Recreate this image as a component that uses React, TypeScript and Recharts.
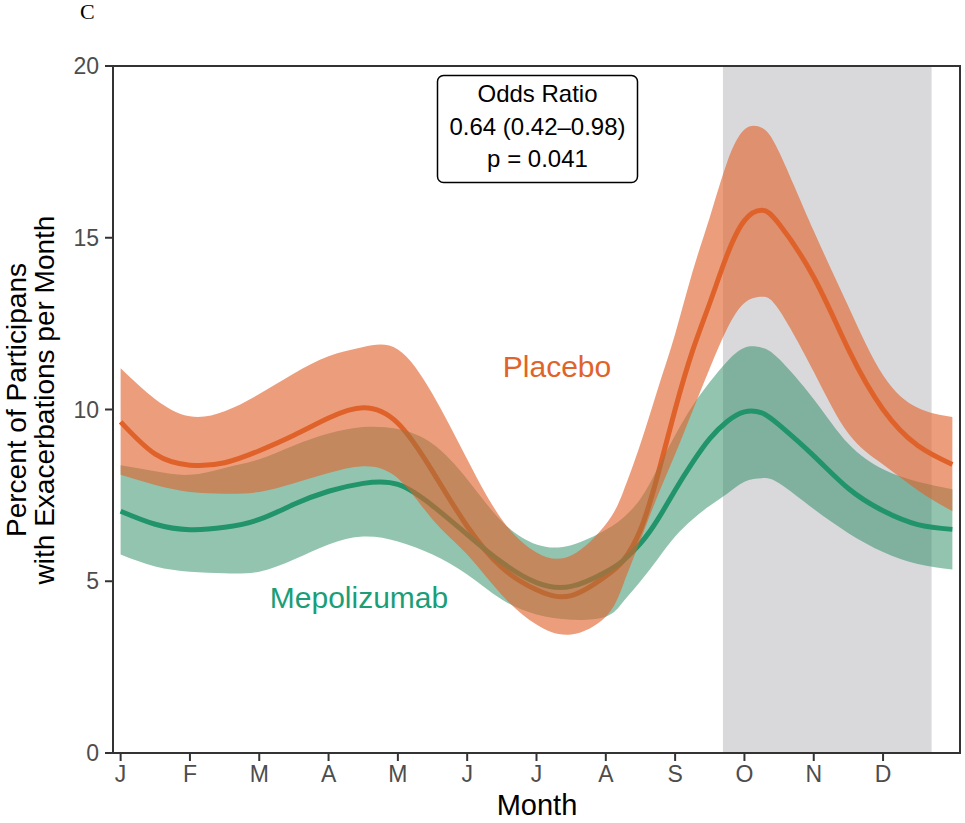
import React from 'react';
import { ComposedChart, Line, Area, XAxis, YAxis, ReferenceArea } from 'recharts';

const months = [1, 1.5, 2, 2.5, 3, 3.5, 4, 4.5, 5, 5.5, 6, 6.5, 7, 7.5, 8, 8.25, 8.5, 8.75, 9, 9.25, 9.5, 9.75, 10, 10.25, 10.5, 11, 11.5, 12, 12.5, 13];

const placebo = [9.64, 8.7, 8.38, 8.45, 8.8, 9.25, 9.75, 10.05, 9.6, 8.2, 6.6, 5.4, 4.75, 4.58, 5.15, 5.6, 6.5, 8.1, 10.0, 11.7, 13.1, 14.5, 15.5, 15.8, 15.4, 13.85, 11.75, 10.0, 8.95, 8.4];
const placeboHigh = [11.2, 10.3, 9.8, 9.95, 10.45, 11.05, 11.55, 11.82, 11.75, 10.45, 8.55, 6.8, 5.84, 5.75, 6.66, 7.6, 9.0, 10.6, 12.2, 14.0, 15.6, 17.2, 18.15, 18.2, 17.5, 15.2, 13.0, 11.0, 10.05, 9.78];
const placeboLow = [8.1, 7.8, 7.6, 7.55, 7.6, 7.85, 8.15, 8.35, 8.0, 6.8, 5.78, 4.6, 3.74, 3.45, 3.97, 4.9, 6.2, 7.5, 8.7, 9.95, 11.2, 12.35, 13.1, 13.28, 12.9, 11.1, 9.3, 8.4, 7.65, 7.04];

const mepo = [7.04, 6.66, 6.5, 6.57, 6.8, 7.24, 7.62, 7.85, 7.82, 7.2, 6.36, 5.55, 4.96, 4.85, 5.27, 5.6, 6.1, 6.8, 7.65, 8.45, 9.15, 9.65, 9.93, 9.9, 9.55, 8.65, 7.7, 7.05, 6.65, 6.51];
const mepoHigh = [8.38, 8.2, 8.1, 8.3, 8.55, 8.95, 9.3, 9.49, 9.43, 9.0, 7.97, 6.74, 6.07, 6.05, 6.5, 6.85, 7.4, 8.3, 9.25, 10.1, 10.8, 11.4, 11.8, 11.8, 11.47, 10.3, 9.0, 8.26, 7.9, 7.68];
const mepoLow = [5.78, 5.43, 5.28, 5.23, 5.28, 5.63, 6.07, 6.3, 6.16, 5.78, 5.2, 4.47, 4.03, 3.88, 3.97, 4.4, 5.0, 5.65, 6.3, 6.8, 7.2, 7.55, 7.9, 8.0, 7.85, 7.1, 6.4, 5.85, 5.5, 5.34];

const monthTicks = [1, 2, 3, 4, 5, 6, 7, 8, 9, 10, 11, 12];
const monthLabels = ['J', 'F', 'M', 'A', 'M', 'J', 'J', 'A', 'S', 'O', 'N', 'D'];
const yTicks = [0, 5, 10, 15, 20];
const shadeStart = 9.69;
const shadeEnd = 12.7;

const oddsLines = ['Odds Ratio', '0.64 (0.42\u20130.98)', 'p = 0.041'];
const yLabelLines = ['Percent of Participans', 'with Exacerbations per Month'];

const data = months.map((m, i) => ({
  m,
  p: placebo[i],
  pr: [placeboLow[i], placeboHigh[i]],
  g: mepo[i],
  gr: [mepoLow[i], mepoHigh[i]],
}));

const ORANGE = '#E0632B';
const GREEN = '#1B9E77';
const FONT = '"Liberation Sans", Arial, Helvetica, sans-serif';
const CURVE = 'natural';

export default function App() {
  return (
    <div style={{ position: 'absolute', left: 0, top: 0, width: 965, height: 823, background: '#fff', fontFamily: FONT }}>
      <ComposedChart
        width={965}
        height={823}
        data={data}
        margin={{ top: 66, right: 5, bottom: 0, left: 0 }}
      >
        <XAxis
          dataKey="m"
          type="number"
          domain={[0.89, 13.11]}
          ticks={monthTicks}
          interval={0}
          allowDataOverflow
          tickFormatter={(v: number) => monthLabels[Math.round(v) - 1]}
          height={70}
          tickSize={8}
          tickMargin={5}
          axisLine={{ stroke: '#333333', strokeWidth: 2 }}
          tickLine={{ stroke: '#333333', strokeWidth: 2 }}
          tick={{ fontSize: 23, fill: '#4D4D4D', fontFamily: FONT }}
        />
        <YAxis
          type="number"
          domain={[0, 20]}
          ticks={yTicks}
          interval={0}
          allowDataOverflow
          width={113}
          tickSize={8}
          tickMargin={6}
          axisLine={{ stroke: '#333333', strokeWidth: 2 }}
          tickLine={{ stroke: '#333333', strokeWidth: 2 }}
          tick={{ fontSize: 23, fill: '#4D4D4D', fontFamily: FONT }}
        />
        <ReferenceArea
          x1={shadeStart}
          x2={shadeEnd}
          y1={0}
          y2={20}
          fill="#D9D9DC"
          fillOpacity={1}
          stroke="none"
          zIndex={10}
        />
        <Line
          dataKey="p"
          type={CURVE}
          stroke={ORANGE}
          strokeWidth={5}
          dot={false}
          activeDot={false}
          isAnimationActive={false}
          zIndex={50}
        />
        <Line
          dataKey="g"
          type={CURVE}
          stroke={GREEN}
          strokeWidth={5}
          dot={false}
          activeDot={false}
          isAnimationActive={false}
          zIndex={50}
        />
        <Area
          dataKey="gr"
          type={CURVE}
          fill="#278960"
          fillOpacity={0.5}
          stroke="none"
          dot={false}
          activeDot={false}
          isAnimationActive={false}
          zIndex={100}
        />
        <Area
          dataKey="pr"
          type={CURVE}
          fill={ORANGE}
          fillOpacity={0.62}
          stroke="none"
          dot={false}
          activeDot={false}
          isAnimationActive={false}
          zIndex={101}
        />
      </ComposedChart>
      <svg
        width={965}
        height={823}
        style={{ position: 'absolute', left: 0, top: 0, pointerEvents: 'none' }}
      >
        <rect x={113} y={66} width={847} height={687} fill="none" stroke="#333333" strokeWidth={2} />
        <text x={80} y={19} fontFamily='"Liberation Serif", "Times New Roman", serif' fontSize={22} fill="#000">C</text>
        <rect x={437.5} y={75.5} width={200} height={107} rx={6} ry={6} fill="#fff" stroke="#000" strokeWidth={1.5} />
        <text x={537.5} y={101.5} textAnchor="middle" fontFamily={FONT} fontSize={24} fill="#000">{oddsLines[0]}</text>
        <text x={537.5} y={135} textAnchor="middle" fontFamily={FONT} fontSize={24} fill="#000">{oddsLines[1]}</text>
        <text x={537.5} y={167} textAnchor="middle" fontFamily={FONT} fontSize={24} fill="#000">{oddsLines[2]}</text>
        <text x={557} y={377} textAnchor="middle" fontFamily={FONT} fontSize={30} fill={ORANGE}>Placebo</text>
        <text x={359} y={608} textAnchor="middle" fontFamily={FONT} fontSize={30} fill={GREEN}>Mepolizumab</text>
        <text x={537} y={815} textAnchor="middle" fontFamily={FONT} fontSize={29} fill="#000">Month</text>
        <g transform="translate(0,400) rotate(-90)">
          <text x={0} y={26} textAnchor="middle" fontFamily={FONT} fontSize={28} fill="#000">{yLabelLines[0]}</text>
          <text x={0} y={54} textAnchor="middle" fontFamily={FONT} fontSize={28} fill="#000">{yLabelLines[1]}</text>
        </g>
      </svg>
    </div>
  );
}
